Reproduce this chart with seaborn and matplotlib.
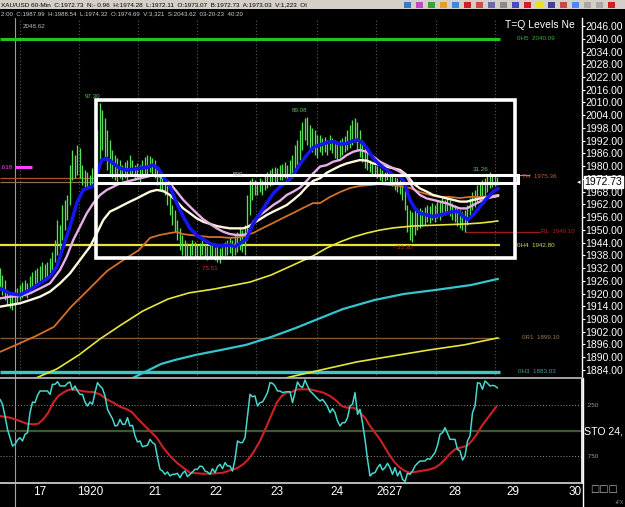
import matplotlib
matplotlib.use("Agg")
import numpy as np
import pandas as pd
import matplotlib.pyplot as plt
import seaborn as sns
from matplotlib.patches import Rectangle
from matplotlib.lines import Line2D

# ---------------- data (x in hours from chart start) ----------------
bar_high = [1932.0, 1928.7, 1926.4, 1921.7, 1920.7, 1919.3, 1921.7, 1922.6, 1924.0, 1925.4,
            1926.4, 1925.0, 1928.3, 1930.2, 1931.1, 1932.0, 1933.0, 1934.9, 1933.9, 1934.9,
            1936.7, 1939.6, 1945.2, 1954.6, 1952.3, 1961.7, 1964.1, 1966.4, 1980.5, 1987.6,
            1985.3, 1990.0, 1988.6, 1980.5, 1978.2, 1977.2, 1975.8, 1979.1, 1982.9, 1997.0,
            2009.7, 2006.4, 2002.7, 1997.0, 1992.3, 1987.6, 1985.3, 1983.8, 1982.9, 1980.5,
            1982.0, 1982.9, 1985.3, 1982.9, 1980.5, 1981.5, 1980.5, 1982.9, 1984.3, 1985.3,
            1984.8, 1983.8, 1982.9, 1979.1, 1977.2, 1975.8, 1974.4, 1971.1, 1966.4, 1961.7,
            1959.4, 1954.6, 1950.9, 1947.6, 1945.2, 1943.8, 1942.9, 1945.2, 1944.3, 1942.9,
            1943.8, 1945.2, 1943.3, 1942.4, 1943.8, 1942.9, 1941.9, 1942.9, 1941.5, 1942.9,
            1944.3, 1945.2, 1946.2, 1945.2, 1947.6, 1949.0, 1950.9, 1949.9, 1952.3, 1966.4,
            1973.5, 1974.4, 1973.5, 1972.5, 1974.4, 1973.5, 1975.4, 1977.2, 1978.2, 1979.1,
            1979.6, 1979.1, 1980.5, 1981.0, 1982.0, 1980.5, 1982.9, 1985.3, 1990.0, 1992.3,
            1997.0, 2000.8, 2002.7, 2003.1, 1999.4, 1998.0, 1997.0, 1994.7, 1994.7, 1993.3,
            1993.7, 1992.3, 1994.7, 1993.3, 1992.3, 1991.4, 1992.3, 1993.3, 1994.2, 1997.0,
            1999.4, 2001.7, 2002.7, 2000.8, 1997.0, 1992.3, 1988.6, 1986.7, 1982.9, 1981.5,
            1980.5, 1980.1, 1979.1, 1978.2, 1977.2, 1978.2, 1977.2, 1975.8, 1974.9, 1974.4,
            1973.5, 1971.1, 1968.8, 1961.7, 1959.4, 1958.4, 1959.4, 1958.4, 1960.3, 1959.4,
            1960.8, 1961.7, 1961.2, 1962.6, 1961.7, 1964.1, 1963.1, 1965.0, 1964.1, 1965.0,
            1964.1, 1962.6, 1961.7, 1960.3, 1959.4, 1958.4, 1959.4, 1961.7, 1965.0, 1967.8,
            1968.8, 1971.1, 1972.5, 1973.5, 1974.4, 1976.3, 1977.2, 1975.8, 1975.4, 1974.9]
bar_low = [1921.7, 1919.3, 1917.0, 1914.6, 1913.2, 1912.3, 1914.1, 1915.6, 1917.0, 1917.9,
           1918.8, 1917.9, 1920.7, 1922.1, 1923.1, 1924.5, 1925.0, 1926.4, 1925.9, 1927.3,
           1928.3, 1931.1, 1934.9, 1938.2, 1940.5, 1945.2, 1949.9, 1954.6, 1961.7, 1973.5,
           1974.4, 1975.8, 1974.4, 1971.1, 1970.2, 1969.7, 1969.7, 1971.1, 1972.1, 1975.8,
           1982.9, 1987.6, 1982.9, 1978.2, 1975.8, 1974.4, 1973.5, 1972.5, 1974.4, 1973.5,
           1974.4, 1973.5, 1975.8, 1975.4, 1973.5, 1974.4, 1972.5, 1974.4, 1974.9, 1975.8,
           1977.2, 1976.3, 1974.4, 1971.1, 1968.8, 1967.8, 1966.4, 1961.7, 1957.0, 1952.3,
           1949.0, 1945.2, 1940.5, 1938.2, 1936.7, 1936.7, 1936.7, 1938.2, 1937.2, 1936.7,
           1937.7, 1938.2, 1936.7, 1935.8, 1937.2, 1936.7, 1935.8, 1934.9, 1934.4, 1936.7,
           1937.7, 1938.2, 1939.1, 1937.7, 1938.2, 1939.6, 1940.5, 1939.6, 1938.2, 1945.2,
           1957.0, 1964.1, 1966.4, 1966.4, 1967.8, 1966.4, 1968.8, 1969.7, 1970.6, 1971.1,
           1972.1, 1972.5, 1973.5, 1973.5, 1974.4, 1972.5, 1973.5, 1974.4, 1978.2, 1980.5,
           1982.9, 1987.6, 1992.3, 1990.0, 1987.6, 1986.7, 1985.3, 1983.8, 1986.7, 1985.3,
           1986.7, 1985.3, 1987.6, 1986.2, 1983.8, 1982.9, 1984.3, 1985.3, 1986.7, 1987.6,
           1988.5, 1990.0, 1991.4, 1987.6, 1984.3, 1981.9, 1979.1, 1978.2, 1977.2, 1975.8,
           1975.4, 1974.4, 1973.5, 1972.5, 1973.0, 1973.5, 1972.1, 1970.6, 1968.8, 1967.8,
           1966.9, 1964.1, 1959.4, 1949.0, 1945.2, 1944.3, 1947.6, 1949.9, 1950.9, 1951.8,
           1952.3, 1953.7, 1953.2, 1954.6, 1953.7, 1955.6, 1954.6, 1956.5, 1957.0, 1957.5,
           1956.5, 1954.6, 1953.7, 1951.8, 1950.9, 1949.9, 1949.0, 1952.3, 1957.0, 1959.4,
           1960.8, 1962.6, 1964.1, 1965.0, 1966.4, 1967.8, 1969.7, 1970.2, 1970.6, 1971.1]
bar_hour = list(range(len(bar_high)))

blue_h = [0, 4, 8, 12, 16, 20, 22.7, 25.3, 28, 30.7, 33.3, 36, 38, 39.3, 40.7, 42.7,
          45.3, 48, 50.7, 53.3, 56, 58.7, 61.3, 63.3, 65.3, 68, 70.7, 73.3, 76, 78.7,
          81.3, 84, 86.7, 89.3, 92, 94, 96, 98.7, 101.3, 104, 106.7, 109.3, 112, 114.7,
          117.3, 120, 122.7, 125.3, 128, 130.7, 133.3, 136, 138.7, 141.3, 143.3, 145.3,
          147.3, 149.3, 152, 154.7, 157.3, 160, 161.3, 162.7, 164, 166, 168, 170.7, 173.3,
          176, 178.7, 181.3, 183.3, 185.3, 187.3, 189.3, 192, 194.7, 197.3, 199.3]
blue_p = [1922.4, 1920.1, 1919.3, 1921.7, 1924.8, 1927.9, 1932.6, 1942.1, 1951.5, 1962.5,
          1968.8, 1970.0, 1971.1, 1978.2, 1982.9, 1983.7, 1981.3, 1979.0, 1978.2, 1978.5,
          1979.0, 1979.4, 1980.5, 1979.0, 1975.1, 1970.3, 1962.5, 1956.2, 1950.7, 1947.6,
          1945.5, 1943.6, 1942.5, 1942.5, 1942.9, 1942.1, 1943.6, 1946.0, 1953.1, 1957.8,
          1962.5, 1967.2, 1970.3, 1972.7, 1975.8, 1981.0, 1985.2, 1988.8, 1990.0, 1991.1,
          1991.5, 1990.4, 1990.7, 1992.0, 1992.3, 1990.7, 1987.6, 1983.7, 1980.5, 1978.2,
          1975.8, 1975.0, 1973.5, 1968.8, 1964.1, 1960.1, 1957.8, 1957.0, 1956.2, 1957.0,
          1957.8, 1958.6, 1958.6, 1956.2, 1954.9, 1957.0, 1960.9, 1964.8, 1968.0, 1969.5]

pink_h = [0, 4, 8, 12, 16, 20, 24, 26.7, 29.3, 32, 34.7, 37.3, 40, 42.7, 45.3, 48, 50.7,
          53.3, 56, 58.7, 61.3, 63.3, 65.3, 68, 70.7, 73.3, 76, 78.7, 81.3, 84, 86.7, 89.3,
          92, 94.7, 97.3, 99.3, 101.3, 104, 106.7, 109.3, 112, 114.7, 117.3, 120, 122.7,
          125.3, 128, 130.7, 133.3, 136, 138.7, 141.3, 144, 146.7, 149.3, 152, 154.7, 157.3,
          160, 162.7, 165.3, 168, 170.7, 173.3, 176, 178.7, 181.3, 184, 186.7, 189.3, 192,
          194.7, 197.3, 199.3]
pink_p = [1917.7, 1918.5, 1918.8, 1920.1, 1922.4, 1924.8, 1931.1, 1937.4, 1945.2, 1951.5,
          1957.8, 1962.5, 1966.4, 1968.8, 1970.3, 1971.9, 1972.7, 1973.5, 1974.3, 1975.0,
          1975.8, 1975.5, 1974.3, 1971.9, 1968.0, 1964.1, 1960.9, 1957.8, 1955.0, 1952.8,
          1950.7, 1949.1, 1948.0, 1947.6, 1947.6, 1948.3, 1953.9, 1957.0, 1959.3, 1961.7,
          1963.7, 1966.4, 1968.0, 1969.9, 1973.1, 1976.6, 1979.8, 1980.5, 1982.1, 1982.9,
          1985.2, 1986.8, 1987.6, 1986.8, 1984.5, 1982.1, 1980.5, 1979.0, 1977.4, 1975.0,
          1969.5, 1966.4, 1964.8, 1964.1, 1963.3, 1962.5, 1961.2, 1960.1, 1960.1, 1961.7,
          1963.3, 1964.8, 1965.6, 1966.4]

white_h = [0, 4, 8, 12, 16, 20, 24, 28, 32, 36, 38.7, 41.3, 44, 46.7, 49.3, 52, 54.7, 57.3,
           60, 62.7, 65.3, 68, 70.7, 73.3, 76, 78.7, 81.3, 84, 86.7, 89.3, 92, 94.7, 97.3,
           99.3, 101.3, 104, 106.7, 109.3, 112, 114.7, 117.3, 120, 122.7, 125.3, 128, 130.7,
           133.3, 136, 138.7, 141.3, 144, 146.7, 149.3, 152, 154.7, 157.3, 160, 162.7, 165.3,
           168, 170.7, 173.3, 176, 178.7, 181.3, 184, 186.7, 189.3, 192, 194.7, 197.3, 199.3]
white_p = [1913.8, 1914.6, 1915.4, 1916.9, 1918.5, 1920.9, 1924.8, 1929.5, 1935.8, 1942.1,
           1948.3, 1954.6, 1958.6, 1960.1, 1961.7, 1963.3, 1964.8, 1966.4, 1968.0, 1968.8,
           1968.3, 1966.4, 1963.3, 1960.1, 1957.8, 1955.4, 1953.8, 1952.8, 1951.8, 1951.2,
           1950.7, 1950.7, 1950.7, 1951.5, 1953.1, 1955.0, 1957.0, 1958.6, 1960.1, 1961.7,
           1964.1, 1966.8, 1970.3, 1973.1, 1974.3, 1976.9, 1978.5, 1980.1, 1981.3, 1982.1,
           1982.9, 1982.6, 1981.3, 1980.5, 1979.7, 1979.0, 1978.2, 1975.8, 1971.9, 1969.5,
           1968.0, 1966.4, 1965.6, 1964.8, 1964.1, 1963.3, 1963.3, 1964.1, 1964.8, 1965.3,
           1965.6, 1966.0]

orange_h = [0, 7.2, 14.4, 21.6, 28.4, 35.6, 42.8, 50, 55.6, 60, 64, 68, 70.8, 73.2, 76, 80,
            84, 88, 92, 96, 98.8, 101.2, 105.2, 109.2, 113.2, 117.2, 121.2, 125.2, 128, 132,
            136, 140, 144, 148, 152, 156, 160, 164, 168, 172, 176, 180, 184, 188, 192, 196,
            199.2]
orange_p = [1892.5, 1896.2, 1900.0, 1904.3, 1913.7, 1922.1, 1930.6, 1936.3, 1940.5, 1946.2,
            1947.6, 1948.5, 1949.0, 1948.0, 1947.6, 1947.1, 1946.6, 1946.6, 1946.2, 1946.6,
            1947.6, 1948.5, 1950.9, 1953.2, 1955.6, 1957.9, 1960.3, 1962.6, 1962.6, 1965.5,
            1967.8, 1969.7, 1970.7, 1971.1, 1971.6, 1971.1, 1970.7, 1969.7, 1967.8, 1966.4,
            1965.5, 1965.5, 1965.0, 1965.5, 1965.5, 1965.9, 1966.4]

yellow1_h = [8, 14.4, 22.8, 31.6, 40, 48.4, 57.2, 67.2, 75.6, 85.6, 100, 108.4, 117.2,
             125.2, 130.8, 136, 141.2, 146.8, 152, 157.2, 165.2, 176, 186.8, 192, 196, 199.2]
yellow1_p = [1877.4, 1880.2, 1884.5, 1891.1, 1898.6, 1905.2, 1911.8, 1917.4, 1920.3, 1922.1,
             1925.4, 1928.7, 1933.4, 1937.7, 1941.5, 1944.3, 1946.6, 1948.5, 1949.9, 1950.9,
             1951.8, 1952.3, 1952.8, 1953.2, 1953.7, 1954.2]

cyan_h = [44.4, 50, 57.2, 64.4, 70, 78.4, 88.4, 98.4, 108.4, 118.4, 127.2, 137.2, 150,
          161.6, 174.4, 188.4, 199.2]
cyan_p = [1875.1, 1878.4, 1882.6, 1886.8, 1888.7, 1891.1, 1893.4, 1895.8, 1899.5, 1903.8,
          1908.0, 1912.7, 1917.0, 1919.8, 1921.7, 1924.0, 1926.9]

yellow2_h = [104, 116, 128.4, 142.8, 157.2, 171.6, 185.6, 199.2]
yellow2_p = [1876.9, 1880.7, 1884.0, 1887.8, 1890.6, 1893.4, 1895.8, 1899.1]

sto_fast = [192, 240, 355, 485, 567, 648, 632, 589, 567, 599,
            534, 518, 322, 218, 224, 152, 110, 110, 110, 110,
            143, 45, 45, 19, 61, 61, 61, 35, 22, 100,
            61, 110, 143, 143, 218, 257, 218, 240, 126, 29,
            61, 87, 159, 289, 338, 381, 452, 446, 387, 436,
            436, 371, 452, 446, 550, 609, 599, 655, 648, 641,
            583, 615, 632, 762, 876, 893, 925, 902, 941, 925,
            925, 915, 958, 915, 893, 948, 925, 902, 876, 876,
            844, 850, 893, 902, 925, 870, 909, 850, 827, 870,
            811, 844, 844, 893, 778, 599, 615, 615, 567, 355,
            143, 166, 159, 257, 224, 218, 175, 126, 29, 35,
            61, 110, 110, 126, 120, 117, 117, 224, 126, 22,
            61, 77, 2, 61, 110, 133, 159, 185, 208, 192,
            224, 263, 322, 283, 322, 404, 452, 420, 420, 371,
            257, 240, 126, 338, 289, 420, 583, 778, 941, 915,
            909, 860, 827, 883, 860, 817, 860, 925, 860, 941,
            893, 974, 995, 915, 925, 893, 844, 817, 795, 795,
            795, 772, 778, 746, 713, 641, 534, 518, 469, 524,
            583, 583, 583, 681, 697, 785, 746, 599, 550, 322,
            257, 29, 35, 94, 12, 35, 61, 55, 61, 81]
sto_slow_h = [0, 4, 8, 10.7, 13.3, 15.3, 17.3, 19.3, 21.3, 23.3, 25.3, 27.3, 28.7, 30.7,
              32.7, 34.7, 37.3, 40, 42.7, 45.3, 48, 50.7, 52.7, 54.7, 57.3, 60, 62.7, 65.3,
              68, 70.7, 73.3, 76, 78.7, 81.3, 84, 86.7, 89.3, 92, 94.7, 97.3, 99.3, 101.3,
              104, 106.7, 108.7, 110.7, 112.7, 114.7, 116.7, 118.7, 121.3, 124, 126.7, 129.3,
              132, 134.7, 136.7, 138.7, 141.3, 142.7, 144, 146, 148, 150, 152, 154, 156, 158,
              160, 162, 164, 166, 168, 170, 172, 174, 176, 178, 180, 182, 184, 186.7, 188.7,
              190.7, 192.7, 194.7, 196.7, 198.7]
sto_slow = [355, 371, 404, 430, 436, 430, 387, 322, 224, 159, 126, 100, 94, 100, 110, 117,
            120, 143, 192, 224, 263, 289, 315, 371, 436, 501, 567, 664, 746, 811, 860, 909,
            915, 919, 919, 915, 909, 886, 866, 827, 778, 713, 599, 452, 338, 224, 159, 126,
            120, 94, 94, 94, 110, 126, 159, 208, 257, 273, 273, 289, 322, 371, 452, 518, 583,
            664, 746, 811, 860, 893, 909, 902, 893, 886, 876, 860, 827, 778, 723, 681, 664,
            648, 599, 534, 452, 387, 322, 257]

# levels and annotations
lvl_0h5, lvl_0h4, lvl_0h3 = 2040.09, 1942.80, 1883.03
lvl_rl, lvl_th, lvl_0r1 = 1949.10, 1975.36, 1899.10
last_price = 1972.73
box_h = (38.3, 206.0)
box_p = (1936.75, 2011.15)
band_p = (1972.3, 1975.9)
price_ticks = np.arange(1884, 2047, 6)
day_ticks = [16, 36, 62, 86.4, 110.8, 134.8, 156, 182, 205.2, 230]
day_labels = ["17", "1920", "21", "22", "23", "24", "2627", "28", "29", "30"]
session_lines = [8, 31.6, 55.2, 78.8, 102.4, 126.8, 150.4, 174.4, 198]
cursor_hour = 6
swing_labels = [(34, 2012.6, "97.30", "#5cc05c"), (116.8, 2006.0, "89.08", "#5cc05c"),
                (189.2, 1978.4, "31.26", "#5cc05c"), (79.2, 1932.0, "- 75.51", "#c83030"),
                (157.2, 1941.5, "- 55.30", "#c83030")]

# ---------------- figure ----------------
sns.set_theme(style="dark")
plt.rcParams['font.family'] = ['Liberation Sans', 'DejaVu Sans']

W, H = 625, 507
fig = plt.figure(figsize=(W / 100, H / 100), dpi=100, facecolor='black')
fx = lambda px: px / W
fy = lambda py: 1 - py / H

ax = fig.add_axes([0, fy(378), fx(582), (378 - 18) / H])
ax2 = fig.add_axes([0, fy(483), fx(582), (483 - 378) / H], sharex=ax)
for a in (ax, ax2):
    a.set_facecolor('black')
    a.grid(False)
    a.axvline(cursor_hour, color='#9a9a9a', lw=0.8, zorder=1)

ax.set_xlim(0, 232.8)
ax.set_ylim(1880.2, 2049.8)
ax2.set_ylim(1010, -17)

# session grid
for s in session_lines:
    ax.axvline(s, color='#5a5a5a', lw=0.8, ls=(0, (1, 2)), zorder=1)

# price bars
ax.vlines(bar_hour, bar_low, bar_high, color='#55e055', lw=0.95, zorder=3)

# moving averages
ma_specs = [(yellow2_h, yellow2_p, '#e6e63c', 1.2), (cyan_h, cyan_p, '#35c5cf', 1.6),
            (yellow1_h, yellow1_p, '#e6e63c', 1.2), (orange_h, orange_p, '#d2702a', 1.3),
            (white_h, white_p, '#fff8dc', 1.7), (pink_h, pink_p, '#e8b0e8', 1.7),
            (blue_h, blue_p, '#1515ee', 2.6)]
for xs, ys, col, lw in ma_specs:
    sns.lineplot(x=xs, y=ys, ax=ax, color=col, lw=lw, sort=False, estimator=None,
                 legend=False, zorder=4)

# level lines
ax.hlines(lvl_0h5, 0, 200, color='#22c422', lw=2.2, zorder=2)
ax.hlines(lvl_0h4, 0, 200, color='#e6e632', lw=1.6, zorder=2)
ax.hlines(lvl_0h3, 0, 200, color='#3cc8c8', lw=2.4, zorder=2)
ax.hlines(lvl_0r1, 0, 200, color='#7a5a3a', lw=1.0, zorder=2)
ax.hlines(lvl_rl, 186, 216, color='#a01818', lw=1.0, zorder=2)
ax.hlines(1974.4, 0, 38, color='#b0502a', lw=0.9, zorder=2)
ax.hlines(1972.5, 0, 38, color='#8a7050', lw=0.9, zorder=2)
ax.hlines(1975.8, 98, 212, color='#909090', lw=0.8, zorder=2)
ax.hlines(1979.6, 6, 12.8, color='#ff40ff', lw=2.2, zorder=5)

lbl = dict(fontsize=4.5, va='center', ha='left', clip_on=False, zorder=7)
ax.text(206.8, lvl_0h5, "0H5  2040.09", color='#3cae3c', **lbl)
ax.text(208.8, lvl_th, "TH  1975.36", color='#c0602a', **lbl)
ax.text(216.4, lvl_rl, "RL  1949.10", color='#c02020', **lbl)
ax.text(206.8, lvl_0h4, "0H4  1942.80", color='#d8d860', **lbl)
ax.text(208.8, lvl_0r1, "0R1  1899.10", color='#a07850', **lbl)
ax.text(207.2, lvl_0h3, "0H3  1883.03", color='#3ca0a0', **lbl)
ax.text(0.3, 1979.6, ".618", color='#ff40ff', **lbl)
ax.text(9.2, 2046.0, "2048.62", color='#b8b8b8', **lbl)
ax.text(93.2, 1976.3, "500", color='#c0c0c0', **lbl)
for hx, py, s, c in swing_labels:
    ax.text(hx, py, s, color=c, **lbl)
ax.text(202, 2046.5, "T=Q Levels Ne", color='white', fontsize=7.5, va='center',
        ha='left', zorder=7)

# drawn boxes
ax.add_patch(Rectangle((box_h[0], box_p[0]), box_h[1] - box_h[0], box_p[1] - box_p[0],
                       fill=False, ec='white', lw=2.6, zorder=6))
ax.add_patch(Rectangle((box_h[0], band_p[0]), box_h[1] + 1.2 - box_h[0], band_p[1] - band_p[0],
                       fill=False, ec='white', lw=2.2, zorder=6))

# price axis
ax.yaxis.tick_right()
ax.set_yticks(price_ticks)
ax.set_yticklabels([f"{t:.2f}" for t in price_ticks])
ax.tick_params(axis='y', colors='white', labelsize=7.5, length=2, width=0.8, pad=0.6,
               direction='out')
ax.tick_params(axis='x', bottom=False, labelbottom=False)
ax.set_xlabel(""); ax.set_ylabel("")
for side in ('left', 'top'):
    ax.spines[side].set_visible(False)
ax.spines['right'].set_color('white'); ax.spines['right'].set_linewidth(1)
ax.spines['bottom'].set_color('#b4b4b4'); ax.spines['bottom'].set_linewidth(1)
ax.text(1.0045, last_price, f"{last_price:.2f}", transform=ax.get_yaxis_transform(),
        color='black', fontsize=7.5, va='center', ha='left', zorder=10, clip_on=False,
        bbox=dict(boxstyle='square,pad=0.1', fc='white', ec='white'))
ax.text(0.991, last_price, "\u25c2", transform=ax.get_yaxis_transform(), color='white',
        fontsize=5, va='center', ha='left', family='DejaVu Sans', clip_on=False)

# stochastic panel
ax2.axhline(500, color='#3c5a30', lw=1.6, zorder=1)
ax2.axhline(250, color='#8a8a8a', lw=0.7, ls=(0, (1, 2)), zorder=1)
ax2.axhline(750, color='#8a8a8a', lw=0.7, ls=(0, (1, 2)), zorder=1)
sns.lineplot(x=sto_slow_h, y=sto_slow, ax=ax2, color='#cc2222', lw=1.5, sort=False,
             estimator=None, legend=False, zorder=3)
sns.lineplot(x=bar_hour, y=sto_fast, ax=ax2, color='#45d8cc', lw=1.1, sort=False,
             estimator=None, legend=False, zorder=4)
ax2.yaxis.tick_right()
ax2.set_yticks([250, 750])
ax2.set_yticklabels([".250", ".750"])
ax2.tick_params(axis='y', colors='#9a9a9a', labelsize=4.5, length=0, pad=3)
ax2.set_xticks(day_ticks)
ax2.set_xticklabels(day_labels)
ax2.tick_params(axis='x', colors='white', labelsize=8.5, length=0, pad=2)
ax2.set_xlabel(""); ax2.set_ylabel("")
ax2.spines['left'].set_visible(False)
ax2.spines['top'].set_color('#b4b4b4')
ax2.spines['right'].set_color('white')
ax2.spines['bottom'].set_color('#d0d0d0')

# frame extras: cursor line and axis line through the date strip
fig.add_artist(Line2D([fx(15), fx(15)], [0, fy(483)], transform=fig.transFigure,
                      color='#a8a8a8', lw=0.8))
fig.add_artist(Line2D([fx(582.5), fx(582.5)], [0, fy(378)], transform=fig.transFigure,
                      color='white', lw=1))
fig.text(fx(584), fy(431), "STO 24,", color='white', fontsize=7.6, va='center', ha='left')
fig.text(fx(590), fy(489), "\u25a1\u25a1\u25a1", color='#b0b0b0', fontsize=7, va='center',
         ha='left', family='DejaVu Sans')
fig.text(fx(615), fy(502), "+FX", color='#909090', fontsize=3.5, va='center', ha='left')

# header strip
fig.patches.append(Rectangle((0, fy(9)), 1, 9 / H, transform=fig.transFigure,
                             fc='#d4d0c8', ec='none', zorder=0))
fig.text(0.002, fy(4.6), "XAU/USD 60-Min  C:1972.73  N:- 0.96  H:1974.28  L:1972.11  "
         "O:1973.07  B:1972.73  A:1973.03  V:1,223  OI", color='black', fontsize=4.6,
         va='center', ha='left')
fig.text(0.002, fy(13.8), "2:00  C:1987.99  H:1988.54  L:1974.32  O:1974.69  V:3,321  "
         "S:2043.62  03-20-23  40:20", color='#d0d0d0', fontsize=4.4, va='center', ha='left')
icon_cols = ['#3a78c8', '#c04ac0', '#3aa03a', '#e0a020', '#3a88e0', '#d02020', '#d04a4a',
             '#6a6aa8', '#8a8a8a', '#4a4ac8', '#d02020', '#e8e020', '#40409a', '#c84a4a',
             '#4a8aff', '#a8a8a8', '#a8a8a8', '#d02020']
for i, c in enumerate(icon_cols):
    fig.patches.append(Rectangle((fx(404 + i * 12), fy(8)), 7 / W, 6.5 / H,
                                 transform=fig.transFigure, fc=c, ec='none'))

fig.savefig("out.png", dpi=100, facecolor='black')
